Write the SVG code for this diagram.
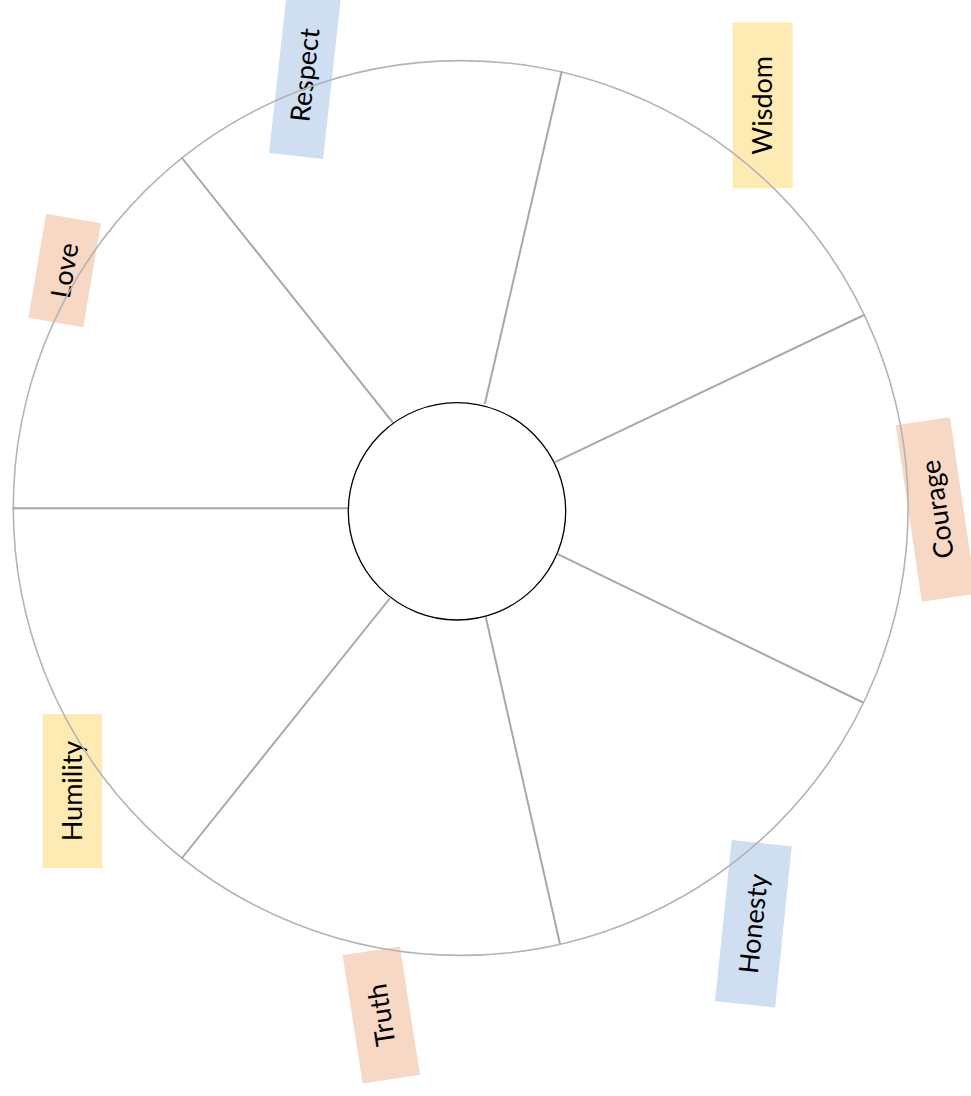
<svg xmlns="http://www.w3.org/2000/svg" width="971" height="1096" viewBox="0 0 971 1096">
<style>
.lbl text{font-family:Lato,"Noto Sans","DejaVu Sans",sans-serif;font-size:27px;fill:#000;text-anchor:middle}
.blue{fill:#cfdff1}
.yellow{fill:#feebb3}
.peach{fill:#f7d8c5}
.spoke{stroke:#a8a8a8;stroke-width:2;fill:none;stroke-linecap:round}
</style>
<rect width="971" height="1096" fill="#fff"/>
<g id="label-respect" class="lbl" transform="translate(305,75) rotate(-83.7)"><rect class="blue" x="-81.5" y="-27.2" width="163" height="54.4"/><text x="0" y="9.5">Respect</text></g>
<g id="label-wisdom" class="lbl" transform="translate(762.7,105.3) rotate(-90)"><rect class="yellow" x="-83" y="-30" width="166" height="60"/><text x="0" y="9.5">Wisdom</text></g>
<g id="label-courage" class="lbl" transform="translate(935.9,509.5) rotate(-98.4)"><rect class="peach" x="-89.3" y="-27.4" width="178.6" height="54.8"/><text x="0" y="11">Courage</text></g>
<g id="label-honesty" class="lbl" transform="translate(753.4,923.7) rotate(-84.1)"><rect class="blue" x="-81" y="-30.2" width="162" height="60.4"/><text x="0" y="9.5">Honesty</text></g>
<g id="label-truth" class="lbl" transform="translate(381.3,1015) rotate(-98.9)"><rect class="peach" x="-64.9" y="-29" width="129.8" height="58"/><text x="0" y="9.5">Truth</text></g>
<g id="label-humility" class="lbl" transform="translate(72.5,791) rotate(-90)"><rect class="yellow" x="-77" y="-29.8" width="154" height="59.6"/><text x="0" y="9.5">Humility</text></g>
<g id="label-love" class="lbl" transform="translate(64.7,270.5) rotate(-80.3)"><rect class="peach" x="-52.7" y="-27.8" width="105.5" height="55.6"/><text x="0" y="9.5">Love</text></g>
<g id="wheel-rim"><circle cx="460.7" cy="508" r="447.4" fill="none" stroke="#b4b4b4" stroke-width="1.6"/></g>
<g id="connectors">
<line class="spoke" x1="13.5" y1="508.3" x2="348.3" y2="508.3"/>
<line class="spoke" x1="182" y1="158" x2="392.7" y2="422.3"/>
<line class="spoke" x1="561.7" y1="71.7" x2="485" y2="403.3"/>
<line class="spoke" x1="864" y1="315" x2="556" y2="461.7"/>
<line class="spoke" x1="862" y1="702" x2="558.3" y2="554.3"/>
<line class="spoke" x1="560" y1="944" x2="485.7" y2="616.7"/>
<line class="spoke" x1="182" y1="858" x2="389.3" y2="599"/>
</g>
<g id="hub"><circle cx="457" cy="511.3" r="108.7" fill="#fff" stroke="#000" stroke-width="1.3"/></g>
</svg>
